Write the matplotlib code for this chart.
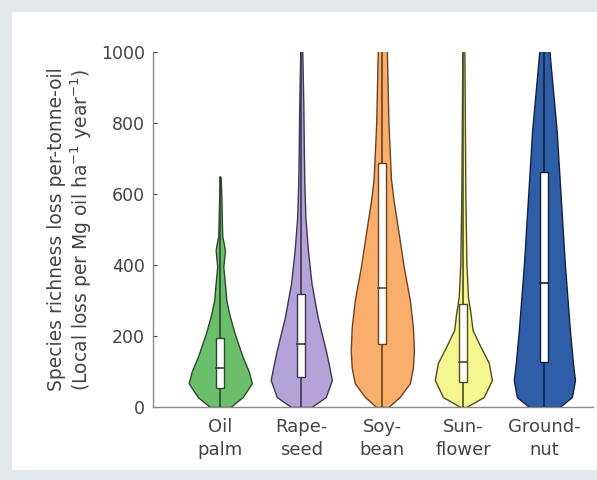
import numpy as np
import matplotlib
matplotlib.use("Agg")
import matplotlib.pyplot as plt
from matplotlib.patches import Rectangle

# ---------------- data ----------------
categories = ["Oil\npalm", "Rape-\nseed", "Soy-\nbean", "Sun-\nflower", "Ground-\nnut"]

# violin outline: value levels and relative density (half-width) at each level
oil_palm_y = [0, 28, 67, 100, 141, 208, 260, 300, 350, 395, 425, 442, 460, 480, 520, 580, 648]
oil_palm_d = [10, 22, 31, 28, 22, 14, 9, 6, 4.5, 3, 4, 4.5, 3.5, 2, 1.6, 1.2, 0.4]

rapeseed_y = [0, 28, 76, 120, 160, 254, 349, 442, 535, 630, 724, 850, 1000, 1050]
rapeseed_d = [10, 24, 30, 27, 24, 16, 10, 6.5, 4, 3, 2.5, 2, 1, 1]

soybean_y = [0, 28, 67, 110, 160, 225, 301, 395, 490, 583, 642, 800, 1000, 1050]
soybean_d = [6, 17, 27, 30, 31, 30, 27, 21, 16, 11, 8.5, 6, 4.5, 4.5]

sunflower_y = [0, 28, 76, 124, 169, 217, 265, 310, 405, 592, 800, 1000, 1050]
sunflower_d = [3, 20, 28, 25, 17, 9, 7, 4.5, 3, 2, 1.5, 1, 1]

groundnut_y = [0, 28, 76, 124, 217, 405, 592, 780, 1000, 1050]
groundnut_d = [15, 27, 30, 28, 25, 20, 16, 12, 5, 4.5]

violin_y = [oil_palm_y, rapeseed_y, soybean_y, sunflower_y, groundnut_y]
violin_d = [oil_palm_d, rapeseed_d, soybean_d, sunflower_d, groundnut_d]

# box statistics
q1 = [54, 85, 177, 70, 127]
median = [110, 177, 335, 127, 349]
q3 = [194, 318, 687, 290, 662]
whisker_lo = [0, 0, 0, 0, 0]
whisker_hi = [648, 1050, 1050, 1050, 1050]

yticks = [0, 200, 400, 600, 800, 1000]

# ---------------- style ----------------
face_colors = ["#6cbf6a", "#b3a3d9", "#f9ae6c", "#f7f58f", "#2f5ea9"]
edge_colors = ["#2b4a2b", "#3e3650", "#6b4322", "#4d4d22", "#14213f"]
max_half_width = 0.39
box_half = 0.05

fig = plt.figure(figsize=(5.97, 4.8), dpi=100, facecolor="#e3e9ea")
bg = Rectangle((12 / 597, 10 / 480), 585 / 597, 458 / 480,
               transform=fig.transFigure, facecolor="white",
               edgecolor="none", zorder=-10)
fig.add_artist(bg)

ax = fig.add_axes([153 / 597, (480 - 407) / 480, 440 / 597, 355 / 480])
ax.set_zorder(1)
ax.set_facecolor("none")

dmax = max(max(d) for d in violin_d)
for i, (ys, ds) in enumerate(zip(violin_y, violin_d)):
    pos = i + 1
    ys = np.asarray(ys, float)
    hw = np.asarray(ds, float) / dmax * max_half_width
    ax.fill_betweenx(ys, pos - hw, pos + hw, facecolor=face_colors[i],
                     edgecolor=edge_colors[i], linewidth=1.0, zorder=2)
    # whisker line
    ax.plot([pos, pos], [whisker_lo[i], whisker_hi[i]], color=edge_colors[i],
            linewidth=1.2, zorder=3)
    # box
    ax.add_patch(Rectangle((pos - box_half, q1[i]), 2 * box_half, q3[i] - q1[i],
                           facecolor="white", edgecolor=edge_colors[i],
                           linewidth=1.0, zorder=4))
    ax.plot([pos - box_half, pos + box_half], [median[i], median[i]],
            color=edge_colors[i], linewidth=1.2, zorder=5)

ax.set_xlim(0.17, 5.6)
ax.set_ylim(0, 1000)
ax.set_yticks(yticks)
ax.set_xticks(range(1, len(categories) + 1))
ax.set_xticklabels(categories, fontsize=13, color="#444444", linespacing=1.35)
ax.tick_params(axis="x", length=0, pad=8)
ax.tick_params(axis="y", direction="in", length=3, labelsize=12.5,
               colors="#444444", pad=6)
for s in ["top", "right"]:
    ax.spines[s].set_visible(False)
for s in ["left", "bottom"]:
    ax.spines[s].set_color("#8a8a8a")
    ax.spines[s].set_linewidth(1.0)

ax.set_ylabel("Species richness loss per-tonne-oil\n"
              "(Local loss per Mg oil ha$^{-1}$ year$^{-1}$)",
              fontsize=13.5, color="#444444", linespacing=1.12, labelpad=5)

fig.savefig("out.png", dpi=100, facecolor=fig.get_facecolor())
